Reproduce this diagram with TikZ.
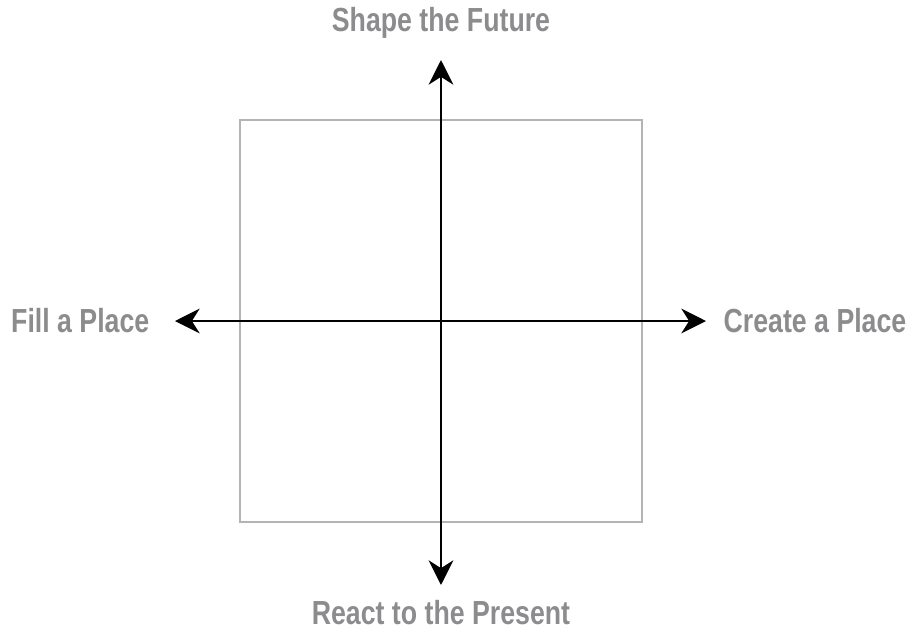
\documentclass[tikz,border=0pt]{standalone}
\usepackage{fontspec}
\newfontfamily\axisfont{Liberation Sans}[FakeStretch=0.8]
\usetikzlibrary{arrows.meta}
\definecolor{labelgray}{HTML}{8C8C8E}
\definecolor{boxgray}{HTML}{B4B4B4}
\tikzset{
  axislabel/.style={font=\axisfont\bfseries\fontsize{9.5pt}{11pt}\selectfont, text=labelgray, inner sep=0pt},
  axisline/.style={line width=0.7pt, {Stealth[length=7pt,width=7pt,inset=2.2pt]}-{Stealth[length=7pt,width=7pt,inset=2.2pt]}}
}
\begin{document}
\begin{tikzpicture}[x=1cm, y=1cm]
  \useasboundingbox (0,0) rectangle (9.11,6.31);
  \draw[boxgray, line width=0.6pt] (2.40,1.09) rectangle (6.42,5.11);
  \coordinate (top) at (4.41,5.71);
  \coordinate (bottom) at (4.41,0.46);
  \coordinate (left) at (1.75,3.10);
  \coordinate (right) at (7.06,3.10);
  \draw[axisline] (bottom) -- (top);
  \draw[axisline] (left) -- (right);
  \node[axislabel] (future) at (4.41,6.08) {Shape the Future};
  \node[axislabel] (present) at (4.41,0.18) {React to the Present};
  \node[axislabel, anchor=east] (fill) at (1.50,3.10) {Fill a Place};
  \node[axislabel, anchor=west] (create) at (7.23,3.10) {Create a Place};
\end{tikzpicture}
\end{document}
